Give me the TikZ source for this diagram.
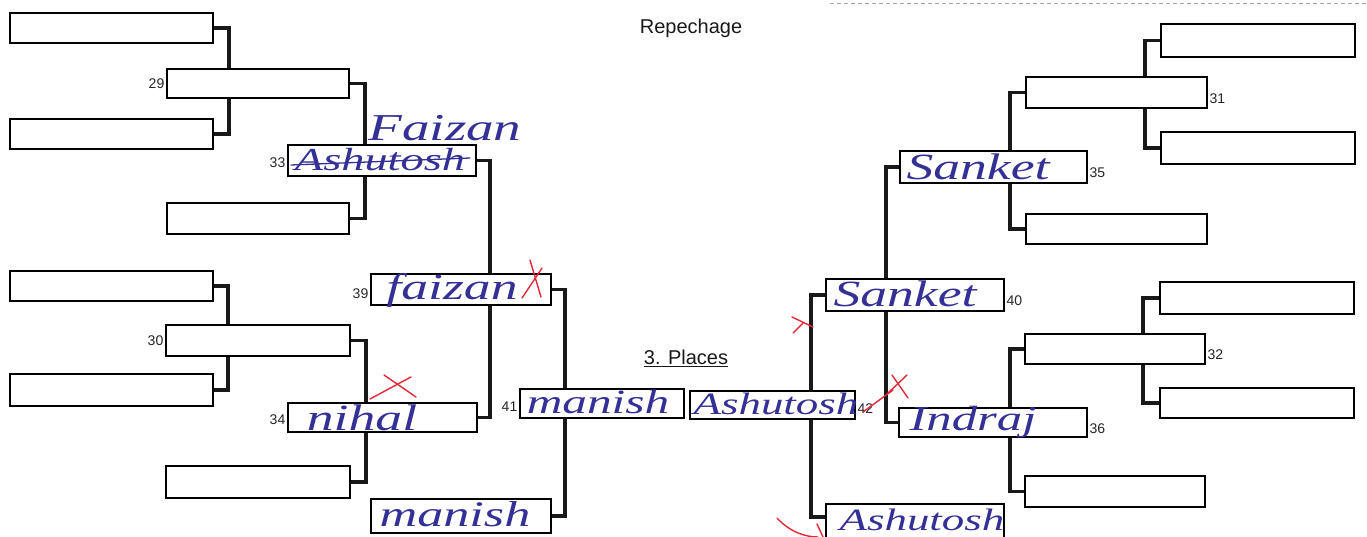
\documentclass[tikz,border=0pt]{standalone}
\usepackage{fontspec}
\setmainfont{Liberation Sans}
\newfontfamily\hand{Liberation Serif}[FakeStretch=1.45]
\usetikzlibrary{calc}
\pgfdeclarelayer{paper}
\pgfdeclarelayer{bg}
\pgfsetlayers{paper,bg,main}
\definecolor{pen}{RGB}{52,48,150}
\definecolor{redpen}{RGB}{228,40,58}
\tikzset{
  slot/.style={draw=black, line width=1.8pt, fill=white, inner sep=0pt, anchor=north west},
  bracket/.style={draw=black!90, line width=3.4pt, line join=miter},
  num/.style={font=\fontsize{14}{16}\selectfont, inner sep=1.5pt, text=black!85},
  lnum/.style={num, anchor=east},
  rnum/.style={num, anchor=west},
  hw/.style={text=pen, inner sep=0pt, font=\hand\itshape\fontsize{#1}{#1}\selectfont},
  redmark/.style={draw=redpen, line width=1.4pt, line cap=round},
  penline/.style={draw=pen, line width=1.3pt, line cap=round},
  heading/.style={font=\fontsize{20}{24}\selectfont, text=black!90},
}
\begin{document}
\begin{tikzpicture}[x=1pt, y=-1pt]
\useasboundingbox (0,0) rectangle (1367,537);
\begin{pgfonlayer}{paper}
\fill[white] (0,0) rectangle (1367,537);
\draw[black!35, line width=0.8pt, dash pattern=on 4pt off 3pt] (830,3) -- (1367,3);
\end{pgfonlayer}

% ---- left half ----
\node[slot, minimum width=203, minimum height=30] (L1) at (9,12) {};
\node[slot, minimum width=182, minimum height=29] (B29) at (166,68) {};
\node[slot, minimum width=203, minimum height=30] (L2) at (9,118) {};
\node[slot, minimum width=188, minimum height=31] (B33) at (287,144) {};
\node[slot, minimum width=182, minimum height=31] (L5) at (166,202) {};
\node[slot, minimum width=203, minimum height=30] (L3) at (9,270) {};
\node[slot, minimum width=184, minimum height=31] (B30) at (165,324) {};
\node[slot, minimum width=203, minimum height=32] (L4) at (9,373) {};
\node[slot, minimum width=189, minimum height=29] (B34) at (287,402) {};
\node[slot, minimum width=184, minimum height=32] (L6) at (165,465) {};
\node[slot, minimum width=180, minimum height=31] (B39) at (370,273) {};
\node[slot, minimum width=180, minimum height=34] (BM) at (370,498) {};
\node[slot, minimum width=164, minimum height=29] (B41) at (519,388) {};
% ---- right half ----
\node[slot, minimum width=165, minimum height=28] (B42) at (689,390) {};
\node[slot, minimum width=178, minimum height=32] (B40) at (825,278) {};
\node[slot, minimum width=178, minimum height=44] (BA) at (825,503) {};
\coordinate (bain) at (825,517);
\node[slot, minimum width=187, minimum height=32] (B35) at (899,150) {};
\node[slot, minimum width=188, minimum height=29] (B36) at (898,407) {};
\node[slot, minimum width=181, minimum height=31] (B31) at (1025,76) {};
\node[slot, minimum width=181, minimum height=30] (R5) at (1025,213) {};
\node[slot, minimum width=180, minimum height=30] (B32) at (1024,333) {};
\node[slot, minimum width=180, minimum height=31] (R6) at (1024,475) {};
\node[slot, minimum width=194, minimum height=33] (R1) at (1160,23) {};
\node[slot, minimum width=194, minimum height=32] (R2) at (1160,131) {};
\node[slot, minimum width=194, minimum height=32] (R3) at (1159,281) {};
\node[slot, minimum width=194, minimum height=30] (R4) at (1159,387) {};

% ---- brackets ----
\begin{pgfonlayer}{bg}
\draw[bracket] (L1.east) -- ++(15,0) |- (L2.east);
\draw[bracket] (B29.east) -- ++(15,0) |- (L5.east);
\draw[bracket] (L3.east) -- ++(14,0) |- (L4.east);
\draw[bracket] (B30.east) -- ++(15,0) |- (L6.east);
\draw[bracket] (B33.east) -- ++(13,0) |- (B34.east);
\draw[bracket] (B39.east) -- ++(13,0) |- (BM.east);
\draw[bracket] (R1.west) -- ++(-15,0) |- (R2.west);
\draw[bracket] (B31.west) -- ++(-15,0) |- (R5.west);
\draw[bracket] (R3.west) -- ++(-16,0) |- (R4.west);
\draw[bracket] (B32.west) -- ++(-14,0) |- (R6.west);
\draw[bracket] (B35.west) -- ++(-13,0) |- (B36.west);
\draw[bracket] (B40.west) -- ++(-14,0) |- (bain);
\end{pgfonlayer}

% ---- numbers ----
\node[lnum] (n29) at (B29.west) {29};
\node[lnum] (n33) at ([yshift=-2]B33.west) {33};
\node[lnum] (n30) at (B30.west) {30};
\node[lnum] (n34) at ([yshift=-2]B34.west) {34};
\node[lnum] (n39) at ([yshift=-4]B39.west) {39};
\node[lnum] (n41) at ([yshift=-3]B41.west) {41};
\node[rnum] (n42) at ([yshift=-4]B42.east) {42};
\node[rnum] (n31) at ([yshift=-6]B31.east) {31};
\node[rnum] (n35) at ([yshift=-6]B35.east) {35};
\node[rnum] (n40) at ([yshift=-6]B40.east) {40};
\node[rnum] (n32) at ([yshift=-6]B32.east) {32};
\node[rnum] (n36) at ([yshift=-6]B36.east) {36};

\node[heading] (rep) at (691,28) {Repechage};
\node[heading] (places) at (686,358) {\underline{3. Places}};

% ---- handwriting ----
\node[hw=38] (h33top) at (445,128) {Faizan};
\node[hw=32] (h33) at (380,160) {Ashutosh};
\draw[penline] (291,165) -- (470,158);
\node[hw=37] (h39) at (452,290) {faizan};
\node[hw=37] (h34) at (362,418) {nihal};
\node[hw=34] (h41) at (598,402) {manish};
\node[hw=36] (hbm) at (455,514) {manish};
\node[hw=31] (h42) at (776,404) {Ashutosh};
\node[hw=37] (h40) at (905,294) {Sanket};
\node[hw=37] (h35) at (978,167) {Sanket};
\node[hw=35] (h36) at (973,422) {Indraj};
\node[hw=31] (hba) at (922,520) {Ashutosh};

% ---- red marks ----
\draw[redmark] (522,298) -- (542,268);
\draw[redmark] (530,260) -- (541,297);
\draw[redmark] (370,399) -- (411,377);
\draw[redmark] (384,375) -- (416,397);
\draw[redmark] (792,317) -- (813,327);
\draw[redmark] (793,333) -- (803,323);
\draw[redmark] (863,412) -- (893,390);
\draw[redmark] (887,394) -- (907,375);
\draw[redmark] (892,375) -- (908,398);
\draw[redmark] (777,518) .. controls (790,532) and (805,537) .. (818,537);
\draw[redmark] (817,524) -- (823,537);
\end{tikzpicture}
\end{document}
